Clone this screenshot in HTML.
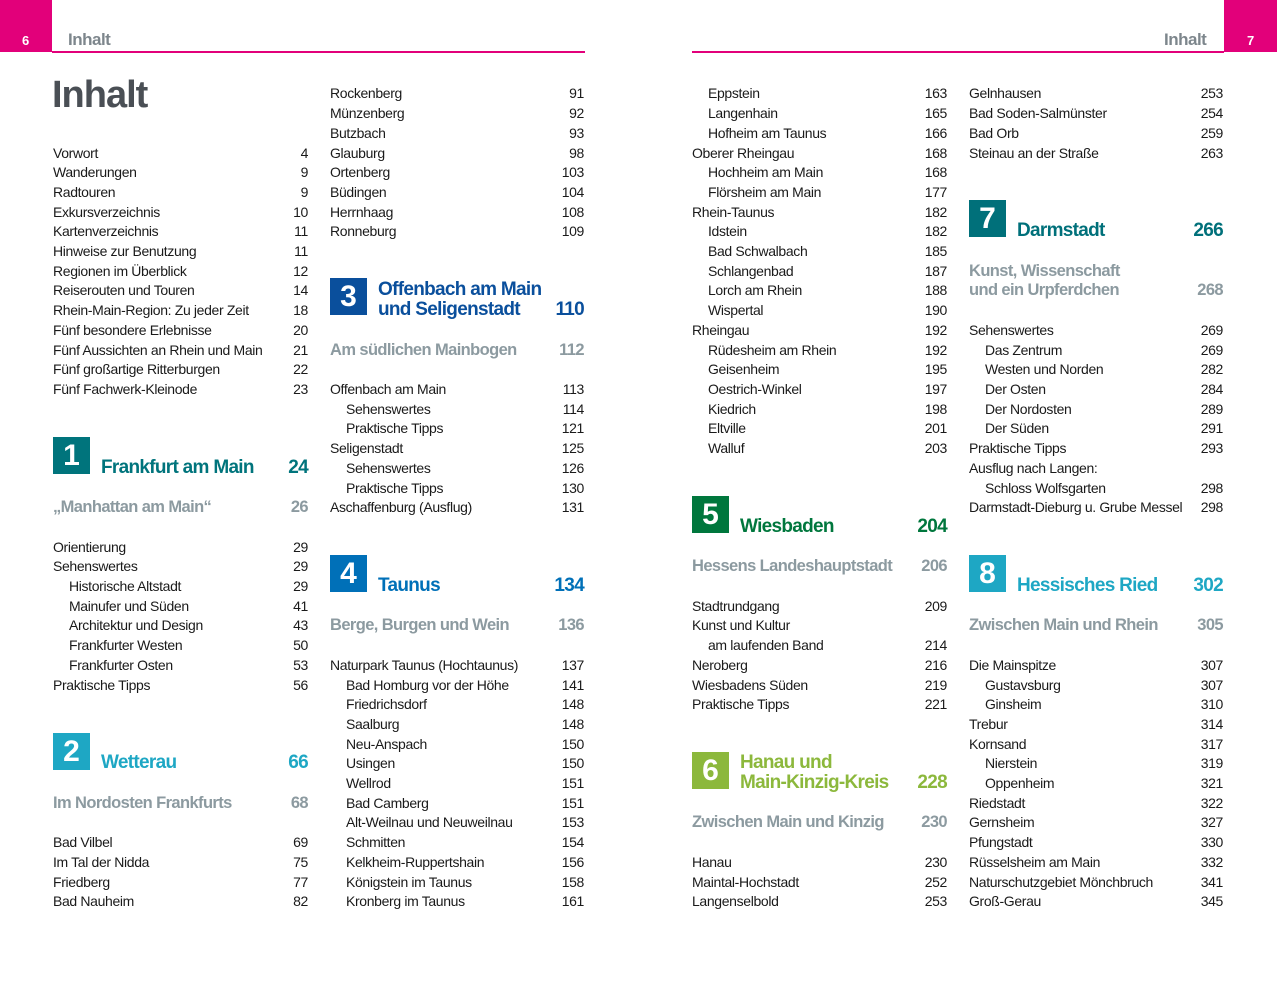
<!DOCTYPE html>
<html><head><meta charset="utf-8">
<style>
body{margin:0;width:1277px;height:1000px;background:#fff;position:relative;overflow:hidden;font-family:"Liberation Sans",sans-serif;color:#1a1a1a}
.r{position:absolute;height:20px;line-height:20px;font-size:14px;letter-spacing:-0.35px;display:flex;justify-content:space-between;white-space:nowrap}
.c1{left:53px;width:255px}.c2{left:330px;width:254px}.c3{left:692px;width:255px}.c4{left:969px;width:254px}
.i span:first-child{padding-left:16px}
.box{position:absolute;width:37px;height:37px;color:#fff;font-weight:bold;font-size:30px;line-height:37px;text-align:center}
.t{position:absolute;margin-top:2px;font-weight:bold;font-size:19px;letter-spacing:-0.7px;line-height:20px;display:flex;justify-content:space-between;white-space:nowrap}
.s{position:absolute;margin-top:1px;font-weight:bold;font-size:16.5px;letter-spacing:-0.6px;line-height:20px;color:#8c9aa0;display:flex;justify-content:space-between;white-space:nowrap}
</style></head><body>
<div style="position:absolute;left:0;top:0;width:52px;height:52px;background:#e2007a"></div>
<div style="position:absolute;left:22px;top:33px;color:#fff;font-weight:bold;font-size:13px">6</div>
<div style="position:absolute;left:68px;top:30px;color:#7d868c;font-weight:bold;font-size:17px;letter-spacing:-0.5px">Inhalt</div>
<div style="position:absolute;left:52px;top:51px;width:533px;height:2px;background:#e2007a"></div>
<div style="position:absolute;left:1224px;top:0;width:53px;height:52px;background:#e2007a"></div>
<div style="position:absolute;left:1247px;top:33px;color:#fff;font-weight:bold;font-size:13px">7</div>
<div style="position:absolute;left:1164px;top:30px;color:#7d868c;font-weight:bold;font-size:17px;letter-spacing:-0.5px">Inhalt</div>
<div style="position:absolute;left:692px;top:51px;width:532px;height:2px;background:#e2007a"></div>
<div style="position:absolute;left:52px;top:74px;color:#4a4f55;font-weight:bold;font-size:38px;letter-spacing:-1px">Inhalt</div>

<!-- col1 -->
<div class="r c1" style="top:143px"><span>Vorwort</span><span>4</span></div>
<div class="r c1" style="top:162px"><span>Wanderungen</span><span>9</span></div>
<div class="r c1" style="top:182px"><span>Radtouren</span><span>9</span></div>
<div class="r c1" style="top:202px"><span>Exkursverzeichnis</span><span>10</span></div>
<div class="r c1" style="top:221px"><span>Kartenverzeichnis</span><span>11</span></div>
<div class="r c1" style="top:241px"><span>Hinweise zur Benutzung</span><span>11</span></div>
<div class="r c1" style="top:261px"><span>Regionen im Überblick</span><span>12</span></div>
<div class="r c1" style="top:280px"><span>Reiserouten und Touren</span><span>14</span></div>
<div class="r c1" style="top:300px"><span>Rhein-Main-Region: Zu jeder Zeit</span><span>18</span></div>
<div class="r c1" style="top:320px"><span>Fünf besondere Erlebnisse</span><span>20</span></div>
<div class="r c1" style="top:340px"><span>Fünf Aussichten an Rhein und Main</span><span>21</span></div>
<div class="r c1" style="top:359px"><span>Fünf großartige Ritterburgen</span><span>22</span></div>
<div class="r c1" style="top:379px"><span>Fünf Fachwerk-Kleinode</span><span>23</span></div>
<div class="box" style="left:53px;top:437px;background:#00747c">1</div>
<div class="t" style="left:101px;width:207px;top:456px;color:#00747c"><span>Frankfurt am Main</span><span>24</span></div>
<div class="s" style="left:53px;width:255px;top:496px"><span>„Manhattan am Main“</span><span>26</span></div>
<div class="r c1" style="top:537px"><span>Orientierung</span><span>29</span></div>
<div class="r c1" style="top:556px"><span>Sehenswertes</span><span>29</span></div>
<div class="r c1 i" style="top:576px"><span>Historische Altstadt</span><span>29</span></div>
<div class="r c1 i" style="top:596px"><span>Mainufer und Süden</span><span>41</span></div>
<div class="r c1 i" style="top:615px"><span>Architektur und Design</span><span>43</span></div>
<div class="r c1 i" style="top:635px"><span>Frankfurter Westen</span><span>50</span></div>
<div class="r c1 i" style="top:655px"><span>Frankfurter Osten</span><span>53</span></div>
<div class="r c1" style="top:675px"><span>Praktische Tipps</span><span>56</span></div>
<div class="box" style="left:53px;top:733px;background:#1ea7c4">2</div>
<div class="t" style="left:101px;width:207px;top:751px;color:#1ea7c4"><span>Wetterau</span><span>66</span></div>
<div class="s" style="left:53px;width:255px;top:792px"><span>Im Nordosten Frankfurts</span><span>68</span></div>
<div class="r c1" style="top:832px"><span>Bad Vilbel</span><span>69</span></div>
<div class="r c1" style="top:852px"><span>Im Tal der Nidda</span><span>75</span></div>
<div class="r c1" style="top:872px"><span>Friedberg</span><span>77</span></div>
<div class="r c1" style="top:891px"><span>Bad Nauheim</span><span>82</span></div>

<!-- col2 -->
<div class="r c2" style="top:83px"><span>Rockenberg</span><span>91</span></div>
<div class="r c2" style="top:103px"><span>Münzenberg</span><span>92</span></div>
<div class="r c2" style="top:123px"><span>Butzbach</span><span>93</span></div>
<div class="r c2" style="top:143px"><span>Glauburg</span><span>98</span></div>
<div class="r c2" style="top:162px"><span>Ortenberg</span><span>103</span></div>
<div class="r c2" style="top:182px"><span>Büdingen</span><span>104</span></div>
<div class="r c2" style="top:202px"><span>Herrnhaag</span><span>108</span></div>
<div class="r c2" style="top:221px"><span>Ronneburg</span><span>109</span></div>
<div class="box" style="left:330px;top:278px;background:#0a4f9c">3</div>
<div class="t" style="left:378px;width:206px;top:278px;color:#0a4f9c"><span>Offenbach am Main</span></div>
<div class="t" style="left:378px;width:206px;top:298px;color:#0a4f9c"><span>und Seligenstadt</span><span>110</span></div>
<div class="s" style="left:330px;width:254px;top:339px"><span>Am südlichen Mainbogen</span><span>112</span></div>
<div class="r c2" style="top:379px"><span>Offenbach am Main</span><span>113</span></div>
<div class="r c2 i" style="top:399px"><span>Sehenswertes</span><span>114</span></div>
<div class="r c2 i" style="top:418px"><span>Praktische Tipps</span><span>121</span></div>
<div class="r c2" style="top:438px"><span>Seligenstadt</span><span>125</span></div>
<div class="r c2 i" style="top:458px"><span>Sehenswertes</span><span>126</span></div>
<div class="r c2 i" style="top:478px"><span>Praktische Tipps</span><span>130</span></div>
<div class="r c2" style="top:497px"><span>Aschaffenburg (Ausflug)</span><span>131</span></div>
<div class="box" style="left:330px;top:555px;background:#0070b8">4</div>
<div class="t" style="left:378px;width:206px;top:574px;color:#0070b8"><span>Taunus</span><span>134</span></div>
<div class="s" style="left:330px;width:254px;top:614px"><span>Berge, Burgen und Wein</span><span>136</span></div>
<div class="r c2" style="top:655px"><span>Naturpark Taunus (Hochtaunus)</span><span>137</span></div>
<div class="r c2 i" style="top:675px"><span>Bad Homburg vor der Höhe</span><span>141</span></div>
<div class="r c2 i" style="top:694px"><span>Friedrichsdorf</span><span>148</span></div>
<div class="r c2 i" style="top:714px"><span>Saalburg</span><span>148</span></div>
<div class="r c2 i" style="top:734px"><span>Neu-Anspach</span><span>150</span></div>
<div class="r c2 i" style="top:753px"><span>Usingen</span><span>150</span></div>
<div class="r c2 i" style="top:773px"><span>Wellrod</span><span>151</span></div>
<div class="r c2 i" style="top:793px"><span>Bad Camberg</span><span>151</span></div>
<div class="r c2 i" style="top:812px"><span>Alt-Weilnau und Neuweilnau</span><span>153</span></div>
<div class="r c2 i" style="top:832px"><span>Schmitten</span><span>154</span></div>
<div class="r c2 i" style="top:852px"><span>Kelkheim-Ruppertshain</span><span>156</span></div>
<div class="r c2 i" style="top:872px"><span>Königstein im Taunus</span><span>158</span></div>
<div class="r c2 i" style="top:891px"><span>Kronberg im Taunus</span><span>161</span></div>

<!-- col3 -->
<div class="r c3 i" style="top:83px"><span>Eppstein</span><span>163</span></div>
<div class="r c3 i" style="top:103px"><span>Langenhain</span><span>165</span></div>
<div class="r c3 i" style="top:123px"><span>Hofheim am Taunus</span><span>166</span></div>
<div class="r c3" style="top:143px"><span>Oberer Rheingau</span><span>168</span></div>
<div class="r c3 i" style="top:162px"><span>Hochheim am Main</span><span>168</span></div>
<div class="r c3 i" style="top:182px"><span>Flörsheim am Main</span><span>177</span></div>
<div class="r c3" style="top:202px"><span>Rhein-Taunus</span><span>182</span></div>
<div class="r c3 i" style="top:221px"><span>Idstein</span><span>182</span></div>
<div class="r c3 i" style="top:241px"><span>Bad Schwalbach</span><span>185</span></div>
<div class="r c3 i" style="top:261px"><span>Schlangenbad</span><span>187</span></div>
<div class="r c3 i" style="top:280px"><span>Lorch am Rhein</span><span>188</span></div>
<div class="r c3 i" style="top:300px"><span>Wispertal</span><span>190</span></div>
<div class="r c3" style="top:320px"><span>Rheingau</span><span>192</span></div>
<div class="r c3 i" style="top:340px"><span>Rüdesheim am Rhein</span><span>192</span></div>
<div class="r c3 i" style="top:359px"><span>Geisenheim</span><span>195</span></div>
<div class="r c3 i" style="top:379px"><span>Oestrich-Winkel</span><span>197</span></div>
<div class="r c3 i" style="top:399px"><span>Kiedrich</span><span>198</span></div>
<div class="r c3 i" style="top:418px"><span>Eltville</span><span>201</span></div>
<div class="r c3 i" style="top:438px"><span>Walluf</span><span>203</span></div>
<div class="box" style="left:692px;top:496px;background:#00773d">5</div>
<div class="t" style="left:740px;width:207px;top:515px;color:#00773d"><span>Wiesbaden</span><span>204</span></div>
<div class="s" style="left:692px;width:255px;top:555px"><span>Hessens Landeshauptstadt</span><span>206</span></div>
<div class="r c3" style="top:596px"><span>Stadtrundgang</span><span>209</span></div>
<div class="r c3" style="top:615px"><span>Kunst und Kultur</span><span></span></div>
<div class="r c3 i" style="top:635px"><span>am laufenden Band</span><span>214</span></div>
<div class="r c3" style="top:655px"><span>Neroberg</span><span>216</span></div>
<div class="r c3" style="top:675px"><span>Wiesbadens Süden</span><span>219</span></div>
<div class="r c3" style="top:694px"><span>Praktische Tipps</span><span>221</span></div>
<div class="box" style="left:692px;top:752px;background:#8cb83c">6</div>
<div class="t" style="left:740px;width:207px;top:751px;color:#8cb83c"><span>Hanau und</span></div>
<div class="t" style="left:740px;width:207px;top:771px;color:#8cb83c"><span>Main-Kinzig-Kreis</span><span>228</span></div>
<div class="s" style="left:692px;width:255px;top:811px"><span>Zwischen Main und Kinzig</span><span>230</span></div>
<div class="r c3" style="top:852px"><span>Hanau</span><span>230</span></div>
<div class="r c3" style="top:872px"><span>Maintal-Hochstadt</span><span>252</span></div>
<div class="r c3" style="top:891px"><span>Langenselbold</span><span>253</span></div>

<!-- col4 -->
<div class="r c4" style="top:83px"><span>Gelnhausen</span><span>253</span></div>
<div class="r c4" style="top:103px"><span>Bad Soden-Salmünster</span><span>254</span></div>
<div class="r c4" style="top:123px"><span>Bad Orb</span><span>259</span></div>
<div class="r c4" style="top:143px"><span>Steinau an der Straße</span><span>263</span></div>
<div class="box" style="left:969px;top:200px;background:#00707a">7</div>
<div class="t" style="left:1017px;width:206px;top:219px;color:#00707a"><span>Darmstadt</span><span>266</span></div>
<div class="s" style="left:969px;width:254px;top:260px"><span>Kunst, Wissenschaft</span></div>
<div class="s" style="left:969px;width:254px;top:279px"><span>und ein Urpferdchen</span><span>268</span></div>
<div class="r c4" style="top:320px"><span>Sehenswertes</span><span>269</span></div>
<div class="r c4 i" style="top:340px"><span>Das Zentrum</span><span>269</span></div>
<div class="r c4 i" style="top:359px"><span>Westen und Norden</span><span>282</span></div>
<div class="r c4 i" style="top:379px"><span>Der Osten</span><span>284</span></div>
<div class="r c4 i" style="top:399px"><span>Der Nordosten</span><span>289</span></div>
<div class="r c4 i" style="top:418px"><span>Der Süden</span><span>291</span></div>
<div class="r c4" style="top:438px"><span>Praktische Tipps</span><span>293</span></div>
<div class="r c4" style="top:458px"><span>Ausflug nach Langen:</span><span></span></div>
<div class="r c4 i" style="top:478px"><span>Schloss Wolfsgarten</span><span>298</span></div>
<div class="r c4" style="top:497px"><span>Darmstadt-Dieburg u. Grube Messel</span><span>298</span></div>
<div class="box" style="left:969px;top:555px;background:#1ea7c4">8</div>
<div class="t" style="left:1017px;width:206px;top:574px;color:#1ea7c4"><span>Hessisches Ried</span><span>302</span></div>
<div class="s" style="left:969px;width:254px;top:614px"><span>Zwischen Main und Rhein</span><span>305</span></div>
<div class="r c4" style="top:655px"><span>Die Mainspitze</span><span>307</span></div>
<div class="r c4 i" style="top:675px"><span>Gustavsburg</span><span>307</span></div>
<div class="r c4 i" style="top:694px"><span>Ginsheim</span><span>310</span></div>
<div class="r c4" style="top:714px"><span>Trebur</span><span>314</span></div>
<div class="r c4" style="top:734px"><span>Kornsand</span><span>317</span></div>
<div class="r c4 i" style="top:753px"><span>Nierstein</span><span>319</span></div>
<div class="r c4 i" style="top:773px"><span>Oppenheim</span><span>321</span></div>
<div class="r c4" style="top:793px"><span>Riedstadt</span><span>322</span></div>
<div class="r c4" style="top:812px"><span>Gernsheim</span><span>327</span></div>
<div class="r c4" style="top:832px"><span>Pfungstadt</span><span>330</span></div>
<div class="r c4" style="top:852px"><span>Rüsselsheim am Main</span><span>332</span></div>
<div class="r c4" style="top:872px"><span>Naturschutzgebiet Mönchbruch</span><span>341</span></div>
<div class="r c4" style="top:891px"><span>Groß-Gerau</span><span>345</span></div>
</body></html>
